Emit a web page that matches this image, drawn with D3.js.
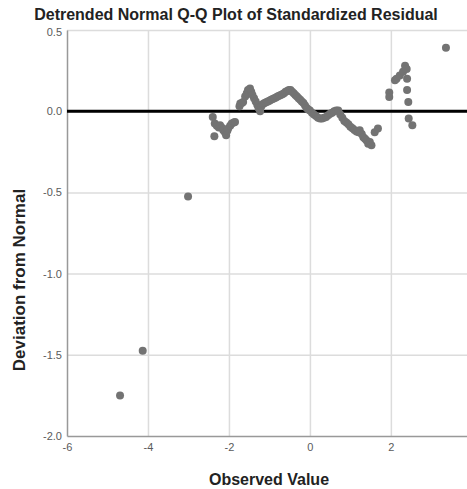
<!DOCTYPE html>
<html>
<head>
<meta charset="utf-8">
<script src="https://cdn.jsdelivr.net/npm/d3@7"></script>
<style>
  body { margin: 0; background: #fff; }
  .tick text { font-family: "Liberation Sans", Arial, sans-serif; font-size: 11px; fill: #5a5a5a; }
  .grid line { stroke: #dcdcdc; stroke-width: 1.5; }
  .title, .axis-title { font-family: "Liberation Sans", Arial, sans-serif; font-weight: bold; fill: #222; }
</style>
</head>
<body>
<svg id="chart"></svg>
<script>
// observed value, deviation from normal
const observed = [
  -4.69, -4.13, -3.01,
  -2.40, -2.36, -2.35, -2.30, -2.25, -2.22, -2.18, -2.14, -2.10, -2.07, -2.04, -2.02, -1.97, -1.93, -1.88, -1.85,
  -1.74, -1.72, -1.68, -1.65, -1.60, -1.56, -1.53, -1.48, -1.45, -1.42, -1.38, -1.34, -1.30, -1.27, -1.23,
  -1.20, -1.16, -1.12, -1.08, -1.04, -1.00, -0.96, -0.92, -0.88, -0.84, -0.80, -0.76, -0.72, -0.68, -0.64,
  -0.60, -0.56, -0.52, -0.48, -0.44, -0.40, -0.36, -0.32, -0.28, -0.24, -0.20, -0.16, -0.12, -0.08, -0.04,
  0.00, 0.05, 0.10, 0.15, 0.20, 0.25, 0.30, 0.35, 0.40, 0.45, 0.50, 0.55, 0.60, 0.65, 0.70, 0.75, 0.80,
  0.85, 0.90, 0.95, 1.00, 1.05, 1.10, 1.15, 1.20, 1.23, 1.28, 1.32, 1.36, 1.40, 1.44, 1.48, 1.52, 1.60, 1.68,
  1.96, 1.96, 2.10, 2.14, 2.22, 2.30, 2.35, 2.39, 2.40, 2.40, 2.43, 2.44, 2.53,
  3.36
];
const deviation = [
  -1.75, -1.475, -0.525,
  -0.035, -0.154, -0.076, -0.09, -0.10, -0.086, -0.10, -0.117, -0.13, -0.148, -0.12, -0.107, -0.09, -0.076, -0.07, -0.066,
  0.03, 0.047, 0.05, 0.057, 0.09, 0.11, 0.13, 0.14, 0.12, 0.10, 0.08, 0.06, 0.04, 0.02, 0.0,
  0.03, 0.045, 0.05, 0.055, 0.06, 0.065, 0.07, 0.075, 0.08, 0.085, 0.09, 0.095, 0.10, 0.105, 0.11,
  0.12, 0.125, 0.13, 0.13, 0.12, 0.11, 0.10, 0.09, 0.08, 0.07, 0.06, 0.05, 0.035, 0.02, 0.01,
  0.005, -0.01, -0.02, -0.03, -0.04, -0.045, -0.045, -0.04, -0.035, -0.025, -0.015, -0.01, 0.0, 0.005, 0.005, -0.02, -0.04,
  -0.06, -0.07, -0.08, -0.095, -0.105, -0.115, -0.125, -0.13, -0.117, -0.14, -0.16, -0.17, -0.18, -0.20, -0.19, -0.21, -0.13, -0.107,
  0.115, 0.088, 0.19, 0.20, 0.22, 0.243, 0.28, 0.26, 0.20, 0.13, 0.057, -0.045, -0.086,
  0.39
];
const points = observed.map((x, i) => ({ x: x, y: deviation[i] }));

const xTicks = [-6, -4, -2, 0, 2];
const yTicks = [-2.0, -1.5, -1.0, -0.5, 0.0, 0.5];

const width = 467, height = 489;
const margin = { left: 67, right: 467, top: 30, bottom: 436 };

const svg = d3.select('#chart').attr('width', width).attr('height', height);

const xScale = d3.scaleLinear().domain([-6, 3.88]).range([margin.left, margin.right]);
const yScale = d3.scaleLinear().domain([-2, 0.5]).range([margin.bottom, margin.top]);

// gridlines
svg.append('g')
  .attr('class', 'grid')
  .attr('transform', `translate(0,${margin.bottom})`)
  .call(d3.axisBottom(xScale).tickValues(xTicks.slice(1)).tickSize(-(margin.bottom - margin.top)).tickFormat(''))
  .call(g => g.select('.domain').remove());

svg.append('g')
  .attr('class', 'grid')
  .attr('transform', `translate(${margin.left},0)`)
  .call(d3.axisLeft(yScale).tickValues(yTicks.slice(1)).tickSize(-(margin.right - margin.left)).tickFormat(''))
  .call(g => g.select('.domain').remove());

// axes (plain hyphen for negatives, like the original)
const xAxisG = svg.append('g')
  .attr('transform', `translate(0,${margin.bottom})`)
  .call(d3.axisBottom(xScale).tickValues(xTicks).tickSize(0).tickPadding(7).tickFormat(d => String(d)));
xAxisG.select('.domain').attr('stroke', '#999').attr('stroke-width', 1.5);

const yAxisG = svg.append('g')
  .attr('transform', `translate(${margin.left},0)`)
  .call(d3.axisLeft(yScale).tickValues(yTicks).tickSize(0).tickPadding(5).tickFormat(d => d.toFixed(1)));
yAxisG.select('.domain').attr('stroke', '#999').attr('stroke-width', 1.5);
// nudge the top label down a little, clear of the title
yAxisG.selectAll('.tick text').filter(d => d === 0.5).attr('dy', '0.5em');

// zero reference line
svg.append('line')
  .attr('x1', margin.left).attr('x2', margin.right)
  .attr('y1', yScale(0)).attr('y2', yScale(0))
  .attr('stroke', '#000').attr('stroke-width', 3);

// points
svg.append('g')
  .selectAll('circle')
  .data(points)
  .join('circle')
  .attr('cx', d => xScale(d.x))
  .attr('cy', d => yScale(d.y))
  .attr('r', 4)
  .attr('fill', '#737373');

// titles
svg.append('text')
  .attr('class', 'title')
  .attr('x', 236).attr('y', 20)
  .attr('text-anchor', 'middle')
  .style('font-size', '16px')
  .text('Detrended Normal Q-Q Plot of Standardized Residual');

svg.append('text')
  .attr('class', 'axis-title')
  .attr('x', 269).attr('y', 485)
  .attr('text-anchor', 'middle')
  .style('font-size', '16px')
  .text('Observed Value');

svg.append('text')
  .attr('class', 'axis-title')
  .attr('transform', `translate(25,${280}) rotate(-90)`)
  .attr('text-anchor', 'middle')
  .style('font-size', '17px')
  .text('Deviation from Normal');
</script>
</body>
</html>
